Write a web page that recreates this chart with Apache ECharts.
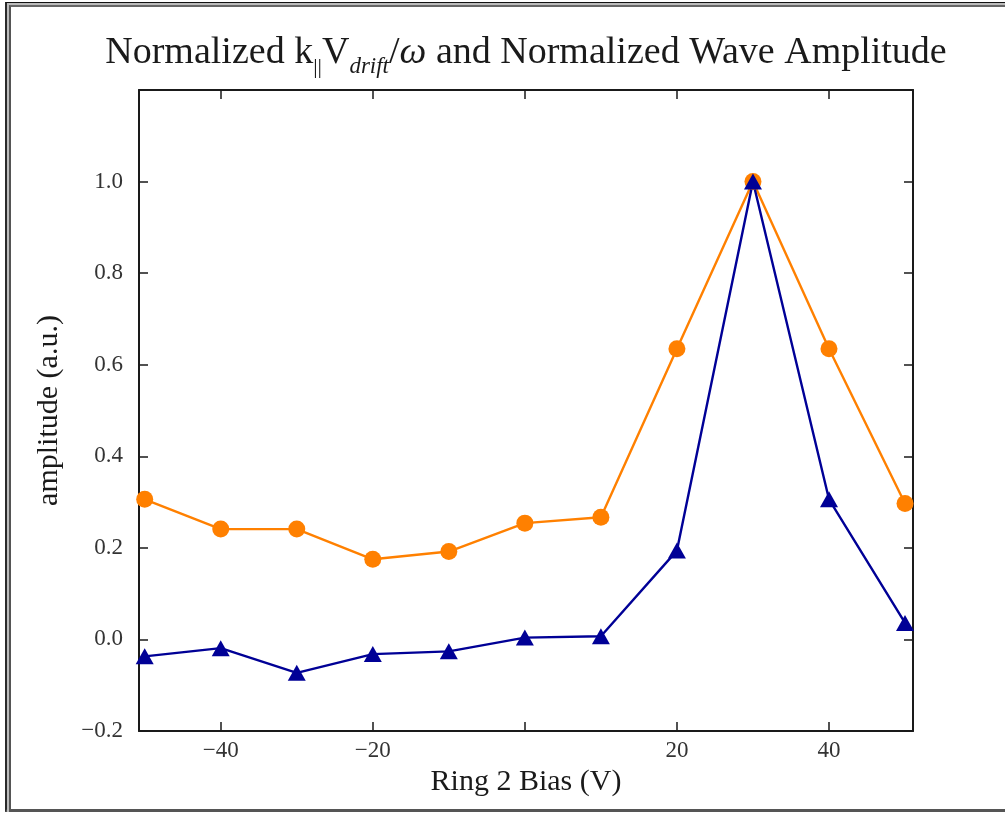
<!DOCTYPE html>
<html>
<head>
<meta charset="utf-8">
<script src="https://cdn.jsdelivr.net/npm/echarts@6/dist/echarts.min.js"></script>
<style>
  html, body { margin: 0; padding: 0; background: #fff; }
  #frame { position: absolute; left: 5px; top: 2px; width: 1010px; height: 810px;
           border-left: 2px solid #2a2a2a; border-top: 1px solid #111; border-bottom: 3px solid #555;
           box-sizing: border-box; }
  #frame-inner { position: absolute; left: 2px; top: 2px; right: 0; bottom: -3px;
                 border-left: 2px solid #555; border-top: 2px solid #666; }
  #frame-gap { position: absolute; left: 0; top: 0; right: 0; bottom: -3px;
               border-left: 2px solid #bbb; border-top: 2px solid #bbb; }
  #chart { position: absolute; left: 0; top: 0; width: 1005px; height: 813px; }
</style>
</head>
<body>
<div id="frame"><div id="frame-gap"></div><div id="frame-inner"></div></div>
<div id="chart"></div>
<script>
// Ring 2 bias sweep (V)
const biasV = [-50, -40, -30, -20, -10, 0, 10, 20, 30, 40, 50];
// normalized k||·Vdrift/ω
const kvOverOmega = [0.306, 0.241, 0.241, 0.175, 0.192, 0.254, 0.267, 0.635, 1.0, 0.635, 0.297];
// normalized wave amplitude
const waveAmp = [-0.037, -0.019, -0.073, -0.032, -0.026, 0.004, 0.007, 0.194, 1.0, 0.306, 0.036];

const xTicks = [-40, -20, 0, 20, 40];
const xTickLabels = [-40, -20, 20, 40];
const yTicks = [-0.2, 0.0, 0.2, 0.4, 0.6, 0.8, 1.0, 1.2];
const yTickLabels = [-0.2, 0.0, 0.2, 0.4, 0.6, 0.8, 1.0];

const FONT = '"Liberation Serif", "DejaVu Serif", serif';
const INK = '#1a1a1a';
const ORANGE = '#ff8000';
const NAVY = '#000096';

const minus = s => String(s).replace('-', '\u2212');

function pairs(xs, ys) { return xs.map((x, i) => [x, ys[i]]); }

const frameAxis = {
  axisLine: { show: true, onZero: false, lineStyle: { color: INK, width: 2 } },
  splitLine: { show: false }
};

const titleText = (extra) => Object.assign({ fontFamily: FONT, fontWeight: 'normal', color: INK,
                                              lineHeight: 42, verticalAlign: 'bottom' }, extra);

const chart = echarts.init(document.getElementById('chart'), null, { renderer: 'canvas' });
chart.setOption({
  animation: false,
  backgroundColor: 'transparent',
  title: {
    left: 521, top: 25, textAlign: 'center',
    text: '{n|Normalized k}{sub|||}{n|V}{subi|drift}{n|/}{i|ω}{n| and Normalized Wave Amplitude}',
    textStyle: {
      fontWeight: 'normal',
      rich: {
        n: titleText({ fontSize: 38 }),
        i: titleText({ fontSize: 38, fontStyle: 'italic' }),
        sub: titleText({ fontSize: 22, padding: [0, 0, -6, 0] }),
        subi: titleText({ fontSize: 23, fontStyle: 'italic', padding: [0, 0, -6, 0] })
      }
    }
  },
  grid: { left: 139, right: 92, top: 90, bottom: 82, containLabel: false },
  xAxis: [
    Object.assign({}, frameAxis, {
      type: 'value', position: 'bottom', min: -50.75, max: 51.05,
      name: 'Ring 2 Bias (V)', nameLocation: 'middle', nameGap: 34,
      nameTextStyle: { fontFamily: FONT, fontSize: 30, color: INK },
      axisTick: { show: true, inside: true, length: 9, customValues: xTicks, lineStyle: { color: INK, width: 1.5 } },
      axisLabel: { show: true, customValues: xTickLabels, formatter: v => minus(v), margin: 8,
                   fontFamily: FONT, fontSize: 23, color: '#333' }
    }),
    Object.assign({}, frameAxis, {
      type: 'value', position: 'top', min: -50.75, max: 51.05,
      axisTick: { show: true, inside: true, length: 9, customValues: xTicks, lineStyle: { color: INK, width: 1.5 } },
      axisLabel: { show: false }
    })
  ],
  yAxis: [
    Object.assign({}, frameAxis, {
      type: 'value', position: 'left', min: -0.2, max: 1.2,
      name: 'amplitude (a.u.)', nameLocation: 'middle', nameGap: 75, nameRotate: 90,
      nameTextStyle: { fontFamily: FONT, fontSize: 30, color: INK },
      axisTick: { show: true, inside: true, length: 9, customValues: yTicks, lineStyle: { color: INK, width: 1.5 } },
      axisLabel: { show: true, customValues: yTickLabels, formatter: v => minus(v.toFixed(1)), margin: 16,
                   fontFamily: FONT, fontSize: 23, color: '#333' }
    }),
    Object.assign({}, frameAxis, {
      type: 'value', position: 'right', min: -0.2, max: 1.2,
      axisTick: { show: true, inside: true, length: 9, customValues: yTicks, lineStyle: { color: INK, width: 1.5 } },
      axisLabel: { show: false }
    })
  ],
  series: [
    {
      type: 'line', name: 'k||Vdrift/ω', data: pairs(biasV, kvOverOmega),
      xAxisIndex: 0, yAxisIndex: 0, clip: false,
      symbol: 'circle', symbolSize: 17,
      lineStyle: { color: ORANGE, width: 2.4 },
      itemStyle: { color: ORANGE, borderWidth: 0 }
    },
    {
      type: 'line', name: 'wave amplitude', data: pairs(biasV, waveAmp),
      xAxisIndex: 0, yAxisIndex: 0, clip: false,
      symbol: 'triangle', symbolSize: [18, 16],
      lineStyle: { color: NAVY, width: 2.4 },
      itemStyle: { color: NAVY, borderWidth: 0 }
    }
  ]
});
</script>
</body>
</html>
